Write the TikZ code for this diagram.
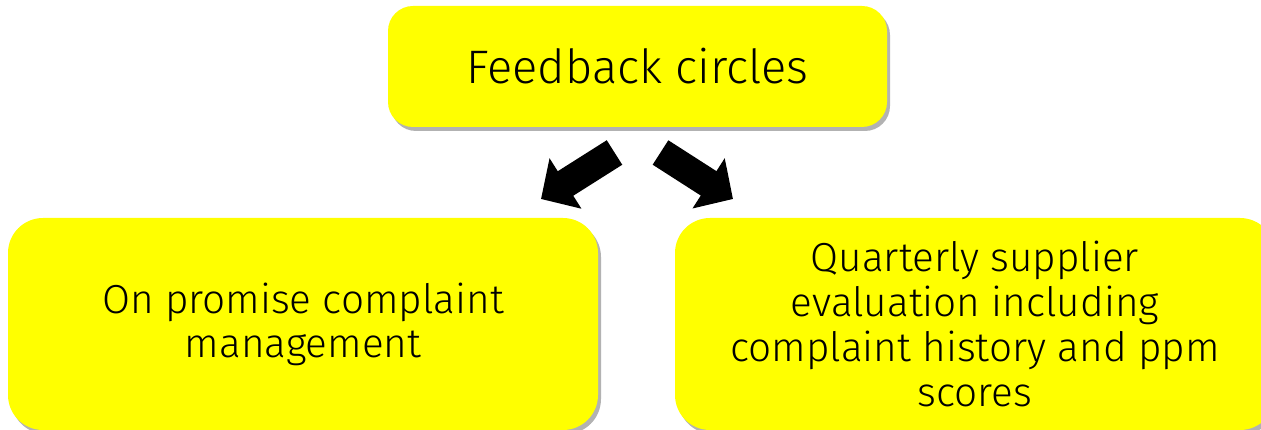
\documentclass[tikz,border=0pt]{standalone}
\usepackage{fontspec}
\setmainfont{Fira Sans}[UprightFont=* Light]
\usepackage{tikz}
\usetikzlibrary{arrows.meta,shadows}

\definecolor{boxyellow}{RGB}{255,255,0}

\tikzset{
    box/.style={rectangle, fill=boxyellow, align=center, inner sep=0pt,
        drop shadow={shadow xshift=3pt, shadow yshift=-4pt, fill=black, opacity=.3}},
    fatarrow/.style={line width=29pt, -{Triangle[width=58pt,length=29pt]}}
}

\begin{document}
\begin{tikzpicture}[x=1pt,y=1pt]
    \useasboundingbox (0,0) rectangle (1261,430);

    \node[box, rounded corners=25pt, minimum width=499pt, minimum height=121pt,
        font=\fontsize{47}{54}\selectfont] (fc) at (637.5,363.5) {Feedback circles};
    \node[box, rounded corners=35pt, minimum width=590pt, minimum height=212pt,
        font=\fontsize{40.5}{44}\selectfont] (cm) at (303,106) {On promise complaint\\management};
    \node[box, rounded corners=35pt, minimum width=600pt, minimum height=212pt,
        font=\fontsize{40.5}{45}\selectfont] (se) at (975,106)
        {Quarterly supplier\\evaluation including\\complaint history and ppm\\scores};

    \coordinate (l1) at (614.5,277.5);
    \coordinate (l2) at (541,231);
    \coordinate (r1) at (660.5,277.5);
    \coordinate (r2) at (733,231);
    \draw[fatarrow] (l1) -- (l2);
    \draw[fatarrow] (r1) -- (r2);
\end{tikzpicture}
\end{document}
